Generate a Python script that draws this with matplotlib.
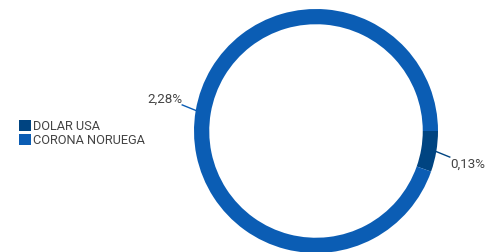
import matplotlib
matplotlib.use('Agg')
import matplotlib.pyplot as plt
import numpy as np

# Data
labels = ['DOLAR USA', 'CORONA NORUEGA']
values = [0.13, 2.28]
valueLabels = ['0,13%', '2,28%']
colors = ['#004481', '#0b5db4']

fig = plt.figure(figsize=(4.87, 2.52), dpi=100)
plt.rcParams['font.family'] = ['Roboto', 'DejaVu Sans']

# Donut axes: square, placed on the right
W, H = 487, 252
ax = fig.add_axes([194 / W, -1 / H, 244 / W, 244 / H])
wedges, _ = ax.pie(values, colors=colors, startangle=0, counterclock=False,
                   radius=1, wedgeprops=dict(width=0.125, edgecolor='none'))
ax.set_xlim(-1, 1)
ax.set_ylim(-1, 1)
ax.set_aspect('equal')
ax.set_axis_off()

# Leader lines and value labels at each wedge's mid angle
for w, txt in zip(wedges, valueLabels):
    mid = np.deg2rad((w.theta1 + w.theta2) / 2)
    x0, y0 = np.cos(mid), np.sin(mid)
    x1, y1 = 1.117 * np.cos(mid - 0.023), 1.117 * np.sin(mid - 0.023)
    ax.plot([x0, x1], [y0, y1], color=w.get_facecolor(), lw=1, clip_on=False)
    right = x1 > 0
    ax.text(x1, y1 + (-0.057 if right else 0.05), txt,
            ha='left' if right else 'right', va='center',
            fontsize=9.6, color='#444444', clip_on=False)

leg = fig.legend(wedges, labels, loc='upper left', bbox_to_anchor=(19 / W, 1 - 120 / H),
                 frameon=False, fontsize=9.2, handlelength=0.95, handleheight=0.95,
                 handletextpad=0.15, labelspacing=0.1, borderpad=0, borderaxespad=0)
for t in leg.get_texts():
    t.set_color('#444444')

fig.savefig('out.png', dpi=100)
